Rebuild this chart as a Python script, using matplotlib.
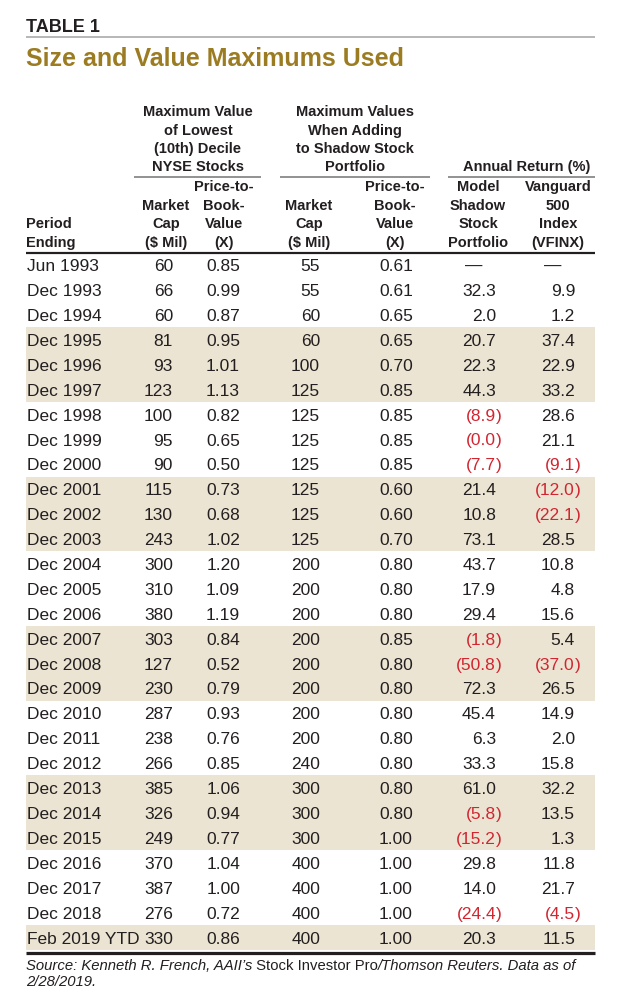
import math
import matplotlib
matplotlib.use("Agg")
import matplotlib.pyplot as plt
from matplotlib.patches import Rectangle

# ---------------- data ----------------
periods = ["Jun 1993", "Dec 1993", "Dec 1994", "Dec 1995", "Dec 1996", "Dec 1997",
           "Dec 1998", "Dec 1999", "Dec 2000", "Dec 2001", "Dec 2002", "Dec 2003",
           "Dec 2004", "Dec 2005", "Dec 2006", "Dec 2007", "Dec 2008", "Dec 2009",
           "Dec 2010", "Dec 2011", "Dec 2012", "Dec 2013", "Dec 2014", "Dec 2015",
           "Dec 2016", "Dec 2017", "Dec 2018", "Feb 2019 YTD"]
decile_mcap = [60, 66, 60, 81, 93, 123, 100, 95, 90, 115, 130, 243, 300, 310, 380,
               303, 127, 230, 287, 238, 266, 385, 326, 249, 370, 387, 276, 330]
decile_pb = [0.85, 0.99, 0.87, 0.95, 1.01, 1.13, 0.82, 0.65, 0.50, 0.73, 0.68, 1.02,
             1.20, 1.09, 1.19, 0.84, 0.52, 0.79, 0.93, 0.76, 0.85, 1.06, 0.94, 0.77,
             1.04, 1.00, 0.72, 0.86]
shadow_mcap = [55, 55, 60, 60, 100, 125, 125, 125, 125, 125, 125, 125, 200, 200, 200,
               200, 200, 200, 200, 200, 240, 300, 300, 300, 400, 400, 400, 400]
shadow_pb = [0.61, 0.61, 0.65, 0.65, 0.70, 0.85, 0.85, 0.85, 0.85, 0.60, 0.60, 0.70,
             0.80, 0.80, 0.80, 0.85, 0.80, 0.80, 0.80, 0.80, 0.80, 0.80, 0.80, 1.00,
             1.00, 1.00, 1.00, 1.00]
model_return = [None, 32.3, 2.0, 20.7, 22.3, 44.3, -8.9, -0.0, -7.7, 21.4, 10.8, 73.1,
                43.7, 17.9, 29.4, -1.8, -50.8, 72.3, 45.4, 6.3, 33.3, 61.0, -5.8, -15.2,
                29.8, 14.0, -24.4, 20.3]
vfinx_return = [None, 9.9, 1.2, 37.4, 22.9, 33.2, 28.6, 21.1, -9.1, -12.0, -22.1, 28.5,
                10.8, 4.8, 15.6, 5.4, -37.0, 26.5, 14.9, 2.0, 15.8, 32.2, 13.5, 1.3,
                11.8, 21.7, -4.5, 11.5]
shaded_rows = ["Dec 1995", "Dec 1996", "Dec 1997", "Dec 2001", "Dec 2002", "Dec 2003",
               "Dec 2007", "Dec 2008", "Dec 2009", "Dec 2013", "Dec 2014", "Dec 2015",
               "Feb 2019 YTD"]

# ---------------- style ----------------
TXT = "#231f20"
RED = "#d12631"
GOLD = "#9c7c22"
BAND = "#ebe4d2"
PX = 72 / 100.0  # points per pixel

DATA_FONT = ["Liberation Sans", "DejaVu Sans"]
HEAD_FONT = ["Liberation Sans", "DejaVu Sans"]
BOLD_FONT = ["Liberation Sans", "DejaVu Sans"]

fig = plt.figure(figsize=(6.19, 10.0), dpi=100)
ax = fig.add_axes([0, 0, 1, 1])
ax.set_xlim(0, 619)
ax.set_ylim(1000, 0)
ax.axis("off")

L, R = 26, 595

# title block
ax.text(L, 25.5 + 6.5, "TABLE 1", family=BOLD_FONT, weight="bold",
        fontsize=18 * PX, color=TXT, va="baseline", ha="left")
ax.plot([L, R], [37, 37], color="#a7a7a7", lw=1.6 * PX, solid_capstyle="butt")
ax.text(L, 66, "Size and Value Maximums Used", family=BOLD_FONT, weight="bold",
        fontsize=25 * PX, color=GOLD, va="baseline", ha="left")

# header
hsize = 14.6 * PX
hoff = 5.4


def head(x, y, s, ha="center"):
    ax.text(x, y + hoff, s, family=HEAD_FONT, weight="bold", fontsize=hsize,
            color=TXT, ha=ha, va="baseline")


gy = [111, 129.5, 148, 166]
for y, s in zip(gy, ["Maximum Value", "of Lowest", "(10th) Decile", "NYSE Stocks"]):
    head(198, y, s)
for y, s in zip(gy, ["Maximum Values", "When Adding", "to Shadow Stock", "Portfolio"]):
    head(355, y, s)
head(590, 166, "Annual Return (%)", ha="right")

for x0, x1 in [(134, 261), (280, 430), (448, R)]:
    ax.plot([x0, x1], [176.5, 176.5], color="#7a7a7a", lw=1.6 * PX, solid_capstyle="butt")

cy = [186, 204.5, 223, 242]
head(L, cy[2], "Period", ha="left")
head(L, cy[3], "Ending", ha="left")
for y, s in zip(cy[1:], ["Market", "Cap", "($ Mil)"]):
    head(166, y, s)
    head(309, y, s)
for y, s in zip(cy, ["Price-to-", "Book-", "Value", "(X)"]):
    head(224, y, s)
    head(395, y, s)
for y, s in zip(cy, ["Model", "Shadow", "Stock", "Portfolio"]):
    head(478, y, s)
for y, s in zip(cy, ["Vanguard", "500", "Index", "(VFINX)"]):
    head(558, y, s)

ax.plot([L, R], [252.5, 252.5], color=TXT, lw=2.2 * PX, solid_capstyle="butt")

# body
row0, rowh = 265.0, 24.9
dsize = 17.4 * PX
doff = 6.2

x_mc1, x_pb1, x_mc2, x_pb2, x_mod, x_vfx = 173, 240, 320, 413, 496, 575


def cell(x, y, s, ha="right", color=TXT):
    ax.text(x, y + doff, s, family=DATA_FONT, fontsize=dsize, color=color,
            ha=ha, va="baseline")


def ret_cell(x, y, v):
    if v is None:
        cell(x - 14, y, "\u2014")
        return
    if math.copysign(1.0, v) < 0:
        cell(x, y, "(" + f"{abs(v):.1f}", color=RED)
        cell(x, y, ")", ha="left", color=RED)
    else:
        cell(x, y, f"{v:.1f}")


for i, p in enumerate(periods):
    y = row0 + i * rowh
    if p in shaded_rows:
        ax.add_patch(Rectangle((L, y - rowh / 2), R - L, rowh, facecolor=BAND,
                               edgecolor="none", zorder=0))
    cell(L + 1, y, p, ha="left")
    cell(x_mc1, y, f"{decile_mcap[i]}")
    cell(x_pb1, y, f"{decile_pb[i]:.2f}")
    cell(x_mc2, y, f"{shadow_mcap[i]}")
    cell(x_pb2, y, f"{shadow_pb[i]:.2f}")
    ret_cell(x_mod, y, model_return[i])
    ret_cell(x_vfx, y, vfinx_return[i])

ax.plot([L, R], [952.5, 952.5], color=TXT, lw=3.2 * PX, solid_capstyle="butt")

# source line with mixed styles
ssize = 14.9 * PX
fig.canvas.draw()
renderer = fig.canvas.get_renderer()
x = L
pieces = [("Source: Kenneth R. French, AAII\u2019s", "italic"),
          (" Stock Investor Pro", "normal"),
          ("/Thomson Reuters. Data as of", "italic")]
for s, st in pieces:
    t = ax.text(x, 970, s, family=DATA_FONT, style=st, fontsize=ssize, color=TXT,
                ha="left", va="baseline")
    bb = t.get_window_extent(renderer=renderer)
    x0d, _ = ax.transData.inverted().transform((bb.x0, bb.y0))
    x1d, _ = ax.transData.inverted().transform((bb.x1, bb.y0))
    x = x + (x1d - x0d)
ax.text(L, 986, "2/28/2019.", family=DATA_FONT, style="italic", fontsize=ssize,
        color=TXT, ha="left", va="baseline")

fig.savefig("out.png", dpi=100)
